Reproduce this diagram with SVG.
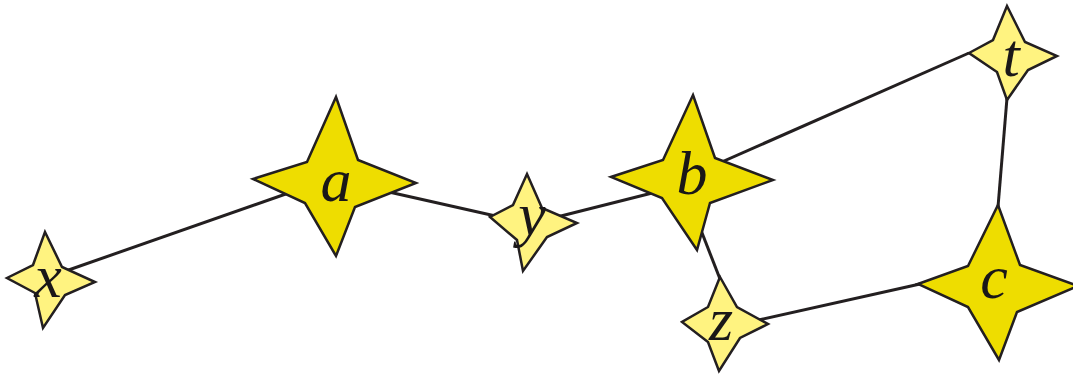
<svg xmlns="http://www.w3.org/2000/svg" width="1073" height="375" viewBox="0 0 1073 375">
<style>
.edge{stroke:#231f20;stroke-width:3;fill:none;stroke-linecap:butt}
.big{fill:#EEDD00;stroke:#231f20;stroke-width:2.5;stroke-linejoin:miter}
.small{fill:#FFF380;stroke:#231f20;stroke-width:2.5;stroke-linejoin:miter}
.lbl{font-family:"Liberation Serif","Times New Roman",serif;font-style:italic;font-size:62px;fill:#1a1718;text-anchor:middle}
</style>
<rect width="1073" height="375" fill="#ffffff"/>
<g id="connectors">
<line class="edge" x1="60" y1="273" x2="320" y2="182"/>
<line class="edge" x1="380" y1="190" x2="500" y2="217"/>
<line class="edge" x1="545" y1="220" x2="680" y2="186"/>
<line class="edge" x1="690" y1="176" x2="969" y2="53"/>
<line class="edge" x1="697" y1="220" x2="720" y2="279"/>
<line class="edge" x1="1007" y1="98" x2="998" y2="207"/>
<line class="edge" x1="745" y1="323" x2="920" y2="284"/>
</g>
<g id="node-x">
<polygon class="small" points="45,232 62,267 95,282 65,295 43,328 35,293 7,278 33,265"/>
<text class="lbl" x="48" y="297">x</text>
</g>
<g id="node-a">
<polygon class="big" points="336,97 358,160 416,183 355,207 336,256 305,203 253,179 307,162"/>
<text class="lbl" x="336" y="201">a</text>
</g>
<g id="node-y">
<polygon class="small" points="527,174 542,208 577,223 547,237 523,271 517,240 490,217 513,205"/>
<text class="lbl" x="532" y="235">y</text>
</g>
<g id="node-b">
<polygon class="big" points="693,95 715,158 773,180 710,203 697,250 662,198 611,177 663,160"/>
<text class="lbl" x="692" y="194">b</text>
</g>
<g id="node-t">
<polygon class="small" points="1007,6 1025,42 1057,56 1028,70 1007,100 997,72 969,53 993,40"/>
<text class="lbl" x="1011" y="76">t</text>
</g>
<g id="node-z">
<polygon class="small" points="720,277 737,307 768,324 740,338 719,371 708,342 682,322 708,307"/>
<text class="lbl" x="721" y="340">z</text>
</g>
<g id="node-c">
<polygon class="big" points="998,205 1020,265 1078,286 1017,312 999,360 968,307 918,284 968,266"/>
<text class="lbl" x="994" y="298">c</text>
</g>
</svg>
